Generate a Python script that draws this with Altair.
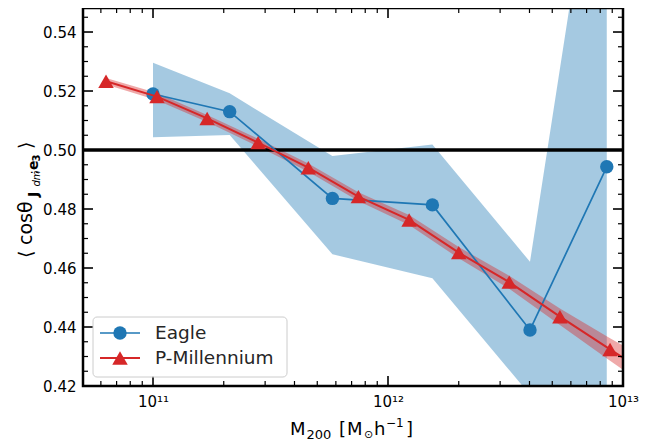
import altair as alt
import pandas as pd

# ---------------- data ----------------
eagle_mass = [1.0e11, 2.12e11, 5.80e11, 1.545e12, 4.02e12, 8.53e12]
eagle_mean = [0.5190, 0.5130, 0.4836, 0.4814, 0.4390, 0.4943]
eagle_lo = [0.5043, 0.5051, 0.4647, 0.4565, 0.4170, 0.4000]
eagle_hi = [0.5296, 0.5192, 0.4980, 0.5019, 0.4621, 0.6300]

pm_mass = [6.31e10, 1.04e11, 1.70e11, 2.80e11, 4.58e11, 7.48e11,
           1.23e12, 2.00e12, 3.28e12, 5.39e12, 8.81e12, 1.44e13]
pm_mean = [0.5233, 0.5181, 0.5107, 0.5025, 0.4940, 0.4842,
           0.4763, 0.4652, 0.4552, 0.4435, 0.4324, 0.4215]
pm_err = [0.0011, 0.0012, 0.0012, 0.0013, 0.0014, 0.0015,
          0.0017, 0.0019, 0.0022, 0.0028, 0.0038, 0.0050]

ref_value = [0.50]

y_major = [0.42, 0.44, 0.46, 0.48, 0.50, 0.52, 0.54]
y_minor = [0.425, 0.43, 0.435, 0.445, 0.45, 0.455, 0.465, 0.47, 0.475,
           0.485, 0.49, 0.495, 0.505, 0.51, 0.515, 0.525, 0.53, 0.535, 0.545]
x_major = [1e11, 1e12, 1e13]
x_major_labels = ["10¹¹", "10¹²", "10¹³"]
x_minor = [6e10, 7e10, 8e10, 9e10,
           2e11, 3e11, 4e11, 5e11, 6e11, 7e11, 8e11, 9e11,
           2e12, 3e12, 4e12, 5e12, 6e12, 7e12, 8e12, 9e12]

series_names = ["Eagle", "P-Millennium"]

# ---------------- styling ----------------
W, H = 540, 378
BLUE = "#1f77b4"
RED = "#d62728"
FONT = "DejaVu Sans"

xscale = alt.Scale(type="log", domain=[10 ** 10.7021, 1e13], nice=False)
yscale = alt.Scale(domain=[0.42, 0.54814], nice=False, zero=False)

eagle = pd.DataFrame({"m": eagle_mass, "mean": eagle_mean, "lo": eagle_lo, "hi": eagle_hi})
pm = pd.DataFrame({"m": pm_mass, "mean": pm_mean,
                   "lo": [a - b for a, b in zip(pm_mean, pm_err)],
                   "hi": [a + b for a, b in zip(pm_mean, pm_err)]})
one = pd.DataFrame({"k": [0]})

label_expr = " : ".join(
    [f"datum.value < {v * 3:.3g} ? '{lab}'" for v, lab in zip(x_major[:-1], x_major_labels[:-1])]
    + [f"'{x_major_labels[-1]}'"]
)

x_axis = alt.Axis(values=x_major, labelExpr=label_expr, title="", ticks=False,
                  domain=False, grid=False, labelFlush=False, labelFontSize=15,
                  labelPadding=8, labelFont=FONT, labelColor="black")
y_axis = alt.Axis(values=y_major, format=".2f", title="", ticks=False, domain=False,
                  grid=False, labelFontSize=15, labelPadding=7, labelFont=FONT,
                  labelColor="black", labelFlush=False)


def X(field):
    return alt.X(field, type="quantitative", scale=xscale, axis=x_axis)


def Y(field):
    return alt.Y(field, type="quantitative", scale=yscale, axis=y_axis)


# bands
eagle_band = alt.Chart(eagle).mark_area(color=BLUE, opacity=0.4, clip=True).encode(
    x=X("m"), y=Y("lo"), y2="hi:Q")
pm_band = alt.Chart(pm).mark_area(color=RED, opacity=0.4, clip=True).encode(
    x=X("m"), y=Y("lo"), y2="hi:Q")
hline = alt.Chart(pd.DataFrame({"v": ref_value})).mark_rule(color="black", strokeWidth=3.5).encode(
    y=Y("v"))
eagle_line = alt.Chart(eagle).mark_line(color=BLUE, strokeWidth=1.7, clip=True).encode(
    x=X("m"), y=Y("mean"))
eagle_pts = alt.Chart(eagle).mark_point(shape="circle", filled=True, size=180, color=BLUE,
                                        opacity=1, clip=True).encode(x=X("m"), y=Y("mean"))
pm_line = alt.Chart(pm).mark_line(color=RED, strokeWidth=2, clip=True).encode(
    x=X("m"), y=Y("mean"))
pm_pts = alt.Chart(pm).mark_point(shape="triangle-up", filled=True, size=240, color=RED,
                                  opacity=1, clip=True).encode(x=X("m"), y=Y("mean"))


# inward ticks on all four sides
def yticks(vals, length, width):
    d = pd.DataFrame({"v": vals})
    left = alt.Chart(d).mark_rule(color="black", strokeWidth=width).encode(
        y=Y("v"), x=alt.value(0), x2=alt.value(length))
    right = alt.Chart(d).mark_rule(color="black", strokeWidth=width).encode(
        y=Y("v"), x=alt.value(W), x2=alt.value(W - length))
    return [left, right]


def xticks(vals, length, width):
    d = pd.DataFrame({"v": vals})
    bottom = alt.Chart(d).mark_rule(color="black", strokeWidth=width).encode(
        x=X("v"), y=alt.value(H), y2=alt.value(H - length))
    top = alt.Chart(d).mark_rule(color="black", strokeWidth=width).encode(
        x=X("v"), y=alt.value(0), y2=alt.value(length))
    return [bottom, top]


tick_layers = (yticks(y_major, 10, 1.6) + yticks(y_minor, 5, 1.2)
               + xticks(x_major, 10, 1.6) + xticks(x_minor, 5, 1.2))

frame = alt.Chart(one).mark_rect(fillOpacity=0, stroke="black", strokeWidth=2.5).encode(
    x=alt.value(0), x2=alt.value(W), y=alt.value(0), y2=alt.value(H))

# legend (drawn by hand)
leg_box = alt.Chart(one).mark_rect(cornerRadius=4, fill="white", fillOpacity=0.8,
                                   stroke="#cccccc", strokeWidth=1).encode(
    x=alt.value(10), x2=alt.value(204), y=alt.value(309), y2=alt.value(369))
leg_l1 = alt.Chart(one).mark_rule(color=BLUE, strokeWidth=1.7).encode(
    x=alt.value(17), x2=alt.value(57), y=alt.value(325))
leg_p1 = alt.Chart(one).mark_point(shape="circle", filled=True, size=180, color=BLUE, opacity=1).encode(
    x=alt.value(37), y=alt.value(325))
leg_t1 = alt.Chart(one).mark_text(align="left", baseline="middle", fontSize=18.5, font=FONT,
                                  color="#262626", text=series_names[0]).encode(
    x=alt.value(72), y=alt.value(325))
leg_l2 = alt.Chart(one).mark_rule(color=RED, strokeWidth=2).encode(
    x=alt.value(17), x2=alt.value(57), y=alt.value(350))
leg_p2 = alt.Chart(one).mark_point(shape="triangle-up", filled=True, size=240, color=RED, opacity=1).encode(
    x=alt.value(37), y=alt.value(350))
leg_t2 = alt.Chart(one).mark_text(align="left", baseline="middle", fontSize=18.5, font=FONT,
                                  color="#262626", text=series_names[1]).encode(
    x=alt.value(72), y=alt.value(350))


# y-axis title made of pieces (rotated)
def ypiece(text, bx, sy, size, weight="normal", style="normal"):
    return alt.Chart(one).mark_text(angle=270, align="left", baseline="alphabetic",
                                    fontSize=size, font=FONT, fontWeight=weight,
                                    fontStyle=style, color="black", text=text).encode(
        x=alt.value(bx), y=alt.value(sy))


ytitle = [
    ypiece("⟨", -51, 250, 19),
    ypiece("cosθ", -51, 237, 19),
    ypiece("J", -45.5, 189, 14, weight="bold"),
    ypiece("dm", -43.5, 178.5, 10, style="italic"),
    ypiece(";", -45.5, 166.5, 13),
    ypiece("e", -45.5, 162, 14, weight="bold"),
    ypiece("3", -43.5, 153.5, 10, weight="bold"),
    ypiece("⟩", -51, 141, 19),
]


# x-axis title made of pieces
def xpiece(text, sx, by, size):
    return alt.Chart(one).mark_text(align="left", baseline="alphabetic", fontSize=size,
                                    font=FONT, color="black", text=text).encode(
        x=alt.value(sx), y=alt.value(by))


xtitle = [
    xpiece("M", 207, 427, 18),
    xpiece("200", 223.5, 430.5, 13),
    xpiece("[", 256, 427, 18),
    xpiece("M", 264, 427, 18),
    xpiece("⊙", 281, 430, 11),
    xpiece("h", 291, 427, 18),
    xpiece("−1", 303, 419, 12),
    xpiece("]", 323, 427, 18),
]

chart = alt.layer(
    eagle_band, pm_band, hline, eagle_line, eagle_pts, pm_line, pm_pts,
    *tick_layers, frame,
    leg_box, leg_l1, leg_p1, leg_t1, leg_l2, leg_p2, leg_t2,
    *ytitle, *xtitle,
).properties(
    width=W, height=H,
    padding={"left": 75, "top": 0, "right": 30, "bottom": 55},
    autosize=alt.AutoSizeParams(type="none"),
).configure_view(strokeOpacity=0)

chart.save("out.html", embed_options={"renderer": "svg", "actions": False})
